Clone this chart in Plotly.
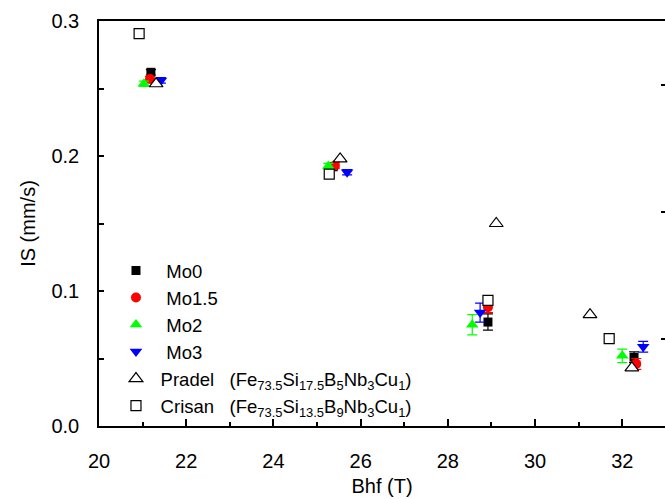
import plotly.graph_objects as go

# ---- data (Bhf in T, IS in mm/s) ----
mo0_x = [21.19, 25.37, 28.92, 32.27]
mo0_y = [0.262, 0.192, 0.077, 0.051]
mo0_err = [0.002, 0.002, 0.006, 0.004]

mo15_x = [21.17, 25.41, 28.92, 32.32]
mo15_y = [0.257, 0.193, 0.088, 0.046]
mo15_err = [0.002, 0.002, 0.004, 0.004]

mo2_x = [21.03, 25.26, 28.56, 32.00]
mo2_y = [0.2535, 0.1926, 0.075, 0.052]
mo2_err = [0.002, 0.002, 0.0075, 0.005]

mo3_x = [21.42, 25.69, 28.74, 32.48]
mo3_y = [0.256, 0.188, 0.084, 0.0587]
mo3_err = [0.002, 0.002, 0.007, 0.004]

pradel_x = [21.31, 25.53, 29.11, 31.26, 32.22]
pradel_y = [0.2535, 0.1978, 0.150, 0.0825, 0.043]

crisan_x = [20.92, 25.28, 28.92, 31.70]
crisan_y = [0.2907, 0.1866, 0.093, 0.0647]

x_ticks = [20, 22, 24, 26, 28, 30, 32]
y_ticks = [0.0, 0.1, 0.2, 0.3]
y_ticklabels = ["0.0", "0.1", "0.2", "0.3"]
right_ticks = [0.2528, 0.1584, 0.0647]

FONT = "Liberation Sans, Arial, sans-serif"
NB = "\u00a0"
QS = "\u2005"

fig = go.Figure()

def add_series(x, y, err, name, color, symbol, size):
    fig.add_trace(go.Scatter(
        x=x, y=y, mode="markers", name=NB * 2 + name,
        marker=dict(color=color, symbol=symbol, size=size, line=dict(width=0)),
        error_y=dict(type="data", array=err, visible=True, color=color,
                     thickness=1.2, width=5),
    ))

add_series(mo0_x, mo0_y, mo0_err, "Mo0", "#000000", "square", 9)
add_series(mo15_x, mo15_y, mo15_err, "Mo1.5", "#FF0000", "circle", 10)
add_series(mo2_x, mo2_y, mo2_err, "Mo2", "#00FF00", "triangle-up", 11)
add_series(mo3_x, mo3_y, mo3_err, "Mo3", "#0000FF", "triangle-down", 11)

fig.add_trace(go.Scatter(
    x=pradel_x, y=pradel_y, mode="markers",
    name=QS + "Pradel" + NB * 3 + "(Fe<sub>73.5</sub>Si<sub>17.5</sub>B<sub>5</sub>Nb<sub>3</sub>Cu<sub>1</sub>)",
    marker=dict(color="white", symbol="triangle-up", size=12,
                line=dict(color="black", width=1.2)),
))
fig.add_trace(go.Scatter(
    x=crisan_x, y=crisan_y, mode="markers",
    name=QS + "Crisan" + NB * 3 + "(Fe<sub>73.5</sub>Si<sub>13.5</sub>B<sub>9</sub>Nb<sub>3</sub>Cu<sub>1</sub>)",
    marker=dict(color="white", symbol="square", size=10,
                line=dict(color="black", width=1.2)),
))

# invisible anchor for the right-hand tick axis
fig.add_trace(go.Scatter(x=[None], y=[None], yaxis="y2", showlegend=False,
                         hoverinfo="skip", mode="markers"))

fig.update_layout(
    width=665, height=499,
    margin=dict(l=99, r=0, t=21, b=73),
    paper_bgcolor="white", plot_bgcolor="white",
    font=dict(family=FONT, size=20, color="black"),
    showlegend=True,
    legend=dict(x=0.03, y=0.43, xanchor="left", yanchor="top",
                bgcolor="rgba(0,0,0,0)", font=dict(size=18.5),
                tracegroupgap=0, itemsizing="trace"),
    xaxis=dict(
        range=[20, 32.98], tickvals=x_ticks, ticks="inside", ticklen=7,
        tickwidth=1.5, tickcolor="black",
        minor=dict(dtick=1, tick0=20, ticks="inside", ticklen=4, tickwidth=1.5,
                   tickcolor="black"),
        showline=True, linewidth=2, linecolor="black", mirror=True,
        showgrid=False, zeroline=False, ticklabelstandoff=16,
        title=dict(text="Bhf (T)", standoff=8, font=dict(size=20)),
        tickfont=dict(size=20),
    ),
    yaxis=dict(
        range=[0, 0.3], tickvals=y_ticks, ticktext=y_ticklabels,
        ticks="inside", ticklen=5, tickwidth=1.5, tickcolor="black",
        minor=dict(dtick=0.05, tick0=0, ticks="inside", ticklen=5, tickwidth=1.5,
                   tickcolor="black"),
        showline=True, linewidth=1.5, linecolor="black", mirror=False,
        showgrid=False, zeroline=False, ticklabelstandoff=14,
        title=dict(text="IS (mm/s)", standoff=10, font=dict(size=20)),
        tickfont=dict(size=20),
    ),
    yaxis2=dict(
        overlaying="y", side="right", range=[0, 0.3], tickvals=right_ticks,
        ticks="inside", ticklen=4, tickwidth=2, tickcolor="black",
        showticklabels=False, showline=False, showgrid=False, zeroline=False,
    ),
)

fig.write_html("out.html")
